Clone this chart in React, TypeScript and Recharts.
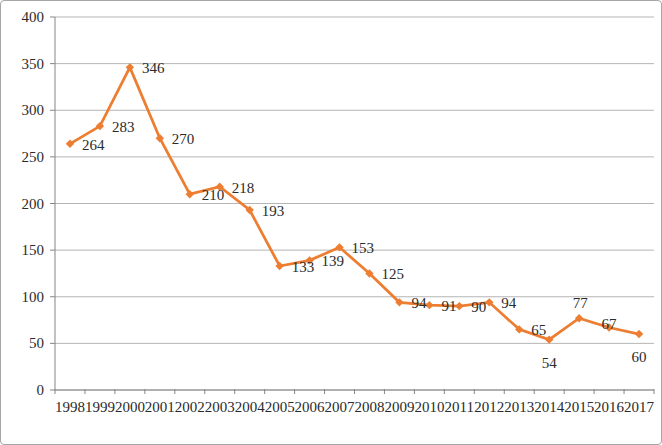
import React from "react"
import { LineChart, Line, XAxis, YAxis, CartesianGrid, LabelList } from "recharts"

const years = [
  "1998", "1999", "2000", "2001", "2002", "2003", "2004", "2005", "2006", "2007",
  "2008", "2009", "2010", "2011", "2012", "2013", "2014", "2015", "2016", "2017",
]
const counts = [264, 283, 346, 270, 210, 218, 193, 133, 139, 153, 125, 94, 91, 90, 94, 65, 54, 77, 67, 60]
const yTicks = [0, 50, 100, 150, 200, 250, 300, 350, 400]

// label placement like the original (default is to the right of the point)
const labelSpot: Record<number, string> = { 16: "below", 17: "above", 18: "center", 19: "below" }

const data = years.map((year, i) => ({ year, value: counts[i] }))

const FONT = "'Liberation Serif', 'Times New Roman', serif"
const ORANGE = "#ED7D31"
const INK = "#2b2b2b"
const BAND = 599 / years.length
const textStyle = { fontFamily: FONT, fontSize: 15 }

const Diamond = (props: any) => {
  const { cx, cy } = props
  if (cx == null || cy == null) return null
  const r = 4.2
  return <path d={`M${cx},${cy - r}L${cx + r},${cy}L${cx},${cy + r}L${cx - r},${cy}Z`} fill={ORANGE} />
}

const XTick = (props: any) => {
  const { x, y, payload, index } = props
  const top = y - 9
  const left = x - BAND / 2
  return (
    <g>
      <line x1={left} y1={top} x2={left} y2={top + 5} stroke="#868686" />
      {index === years.length - 1 && (
        <line x1={x + BAND / 2} y1={top} x2={x + BAND / 2} y2={top + 5} stroke="#868686" />
      )}
      <text x={x} y={top + 23} textAnchor="middle" style={textStyle} fill={INK}>
        {payload.value}
      </text>
    </g>
  )
}

const YTick = (props: any) => {
  const { x, y, payload } = props
  return (
    <text x={x} y={y + 5} textAnchor="end" style={textStyle} fill={INK}>
      {payload.value}
    </text>
  )
}

const PointLabel = (props: any) => {
  const { x, y, value, index } = props
  const spot = labelSpot[index] || "right"
  let lx = x + 12
  let ly = y + 6
  let anchor = "start"
  if (spot === "below") {
    lx = x
    ly = y + 28
    anchor = "middle"
  } else if (spot === "above") {
    lx = x + 1
    ly = y - 10
    anchor = "middle"
  } else if (spot === "center") {
    lx = x
    ly = y + 1
    anchor = "middle"
  }
  return (
    <text x={lx} y={ly} textAnchor={anchor} style={textStyle} fill={INK}>
      {value}
    </text>
  )
}

export default function App() {
  return (
    <div
      style={{
        position: "absolute",
        left: 0,
        top: 0,
        width: 660,
        height: 443,
        border: "1px solid #a6a6a6",
        borderRadius: 4,
        background: "#fff",
        fontFamily: FONT,
      }}
    >
      <LineChart width={660} height={443} data={data} margin={{ top: 16, right: 7, left: 0, bottom: 0 }}>
        <CartesianGrid vertical={false} stroke="#b5b5b5" />
        <XAxis
          dataKey="year"
          scale="band"
          interval={0}
          height={54}
          tickLine={false}
          tick={<XTick />}
          axisLine={{ stroke: "#868686" }}
        />
        <YAxis
          domain={[0, 400]}
          ticks={yTicks}
          width={54}
          tickSize={5}
          tickMargin={6}
          tickLine={{ stroke: "#868686" }}
          axisLine={{ stroke: "#868686" }}
          tick={<YTick />}
        />
        <Line
          type="linear"
          dataKey="value"
          stroke={ORANGE}
          strokeWidth={2.75}
          dot={<Diamond />}
          activeDot={false}
          isAnimationActive={false}
        >
          <LabelList dataKey="value" content={<PointLabel />} />
        </Line>
      </LineChart>
    </div>
  )
}
